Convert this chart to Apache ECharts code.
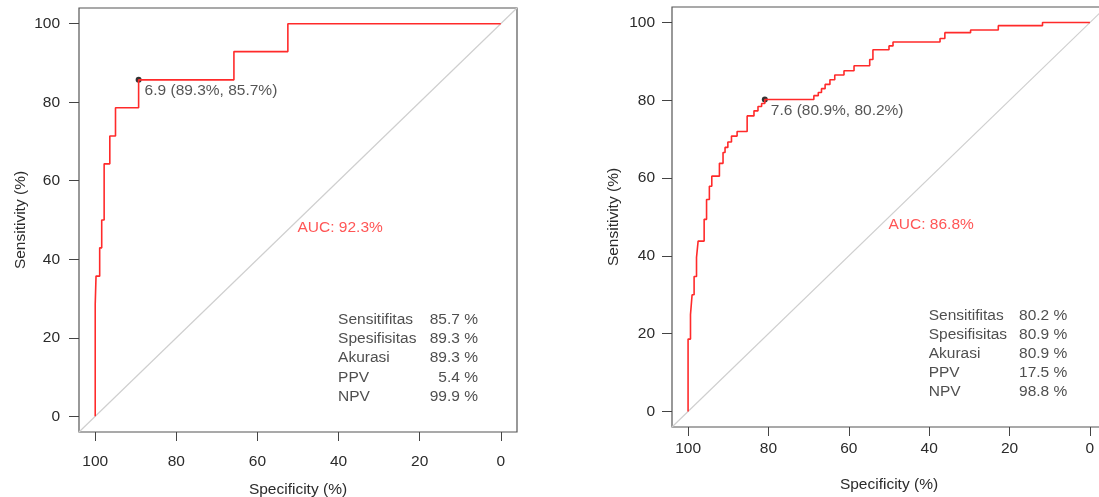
<!DOCTYPE html>
<html>
<head>
<meta charset="utf-8">
<script src="https://cdn.jsdelivr.net/npm/echarts@6/dist/echarts.min.js"></script>
<style>
  html, body { margin: 0; padding: 0; background: #fff; }
  #chart { width: 1099px; height: 497px; }
</style>
</head>
<body>
<div id="chart"></div>
<script>
// ROC step points: [specificity %, sensitivity %]
const rocLeft = [
    [100, 0], [100, 28.6], [99.8, 35.7], [98.9, 42.9], [98.4, 50.0], [97.8, 64.3],
    [96.4, 71.4], [95.0, 78.6], [89.3, 85.7], [65.8, 92.9], [52.5, 100], [0, 100]
];
const rocRight = [
    [100, 0], [100, 18.6], [99.4, 24.9], [99.0, 30.0], [98.5, 34.7], [97.9, 39.6],
    [97.5, 43.8], [96.0, 49.4], [95.4, 54.5], [94.7, 57.9], [94.1, 60.5], [92.2, 63.8],
    [91.3, 66.6], [90.8, 67.9], [90.1, 69.3], [89.2, 70.8], [87.8, 72.0], [85.3, 76.0],
    [83.6, 77.3], [82.6, 78.4], [81.7, 79.2], [80.9, 80.2], [68.7, 81.2], [67.6, 82.0],
    [66.8, 83.0], [65.9, 84.1], [64.7, 85.3], [63.5, 86.5], [61.2, 87.6], [58.7, 88.9],
    [54.8, 90.5], [54.0, 93.0], [50.0, 94.0], [49.0, 95.0], [37.3, 95.9], [36.1, 97.4],
    [29.7, 98.1], [22.8, 99.2], [11.8, 100], [0, 100]
];

const thrLeft = { cut: "6.9", spec: 89.3, sens: 85.7 };
const thrRight = { cut: "7.6", spec: 80.9, sens: 80.2 };
const aucLeft = "92.3";
const aucRight = "86.8";

const metricNames = ["Sensitifitas", "Spesifisitas", "Akurasi", "PPV", "NPV"];
const valuesLeft = ["85.7 %", "89.3 %", "89.3 %", "5.4 %", "99.9 %"];
const valuesRight = ["80.2 %", "80.9 %", "80.9 %", "17.5 %", "98.8 %"];

const ticks = [0, 20, 40, 60, 80, 100];

const FONT = "'Liberation Sans', Arial, sans-serif";
const TXT = "#2b2b2b";

function xAxisFor(idx, labelMargin, nameGap) {
    return {
        type: "value", gridIndex: idx, min: -4, max: 104, inverse: true,
        axisLine: { show: false, onZero: false },
        splitLine: { show: false },
        axisTick: { show: true, length: 9, customValues: ticks, lineStyle: { color: "#444" } },
        axisLabel: { customValues: ticks, margin: labelMargin, fontSize: 15.5, color: TXT, fontFamily: FONT },
        name: "Specificity (%)", nameLocation: "middle", nameGap: nameGap,
        nameTextStyle: { fontSize: 15.5, color: TXT, fontFamily: FONT }
    };
}

function yAxisFor(idx, labelMargin) {
    return {
        type: "value", gridIndex: idx, min: -4, max: 104,
        axisLine: { show: false, onZero: false },
        splitLine: { show: false },
        axisTick: { show: true, length: 10, customValues: ticks, lineStyle: { color: "#444" } },
        axisLabel: { customValues: ticks, margin: labelMargin, fontSize: 15.5, color: TXT, fontFamily: FONT },
        name: "Sensitivity (%)", nameLocation: "middle", nameGap: 50,
        nameTextStyle: { fontSize: 15.5, color: TXT, fontFamily: FONT }
    };
}

function panelSeries(idx, roc, thr, auc, values) {
    const textLabel = (align) => ({
        show: true, position: [0, 0], align: align, verticalAlign: "middle",
        formatter: (p) => p.name, fontSize: 15.5, color: "#222", fontFamily: FONT
    });
    const rowY = (i) => 24.5 - i * 4.9;
    return [
        {
            type: "line", xAxisIndex: idx, yAxisIndex: idx,
            data: [[104, -4], [-4, 104]], showSymbol: false, silent: true,
            lineStyle: { color: "#cfcfcf", width: 1.2 }
        },
        {
            type: "line", xAxisIndex: idx, yAxisIndex: idx, step: "end",
            data: roc, showSymbol: false, silent: true,
            lineStyle: { color: "#ff2a2a", width: 1.6 }
        },
        {
            type: "scatter", xAxisIndex: idx, yAxisIndex: idx,
            data: [[thr.spec, thr.sens]], symbolSize: 6, itemStyle: { color: "#000" },
            label: {
                show: true, position: "right", distance: 3, offset: [0, 11],
                formatter: () => `${thr.cut} (${thr.spec}%, ${thr.sens}%)`,
                fontSize: 15.5, color: TXT, fontFamily: FONT
            }
        },
        {
            type: "scatter", xAxisIndex: idx, yAxisIndex: idx,
            data: [{ name: `AUC: ${auc}%`, value: [50, 50] }],
            symbolSize: 1, itemStyle: { color: "rgba(0,0,0,0)" },
            label: {
                show: true, position: [0, 0], align: "left", verticalAlign: "top",
                formatter: (p) => p.name, fontSize: 15.5, color: "#ff2a2a", fontFamily: FONT
            }
        },
        {
            type: "scatter", xAxisIndex: idx, yAxisIndex: idx,
            data: metricNames.map((n, i) => ({ name: n, value: [40, rowY(i)] })),
            symbolSize: 1, itemStyle: { color: "rgba(0,0,0,0)" }, label: textLabel("left")
        },
        {
            type: "scatter", xAxisIndex: idx, yAxisIndex: idx,
            data: values.map((v, i) => ({ name: v, value: [5.5, rowY(i)] })),
            symbolSize: 1, itemStyle: { color: "rgba(0,0,0,0)" }, label: textLabel("right")
        }
    ];
}

const chart = echarts.init(document.getElementById("chart"));
chart.setOption({
    animation: false,
    grid: [
        { left: 79, top: 8, width: 438, height: 424, outerBoundsMode: "none", containLabel: false,
          show: true, borderColor: "#555", borderWidth: 1.2 },
        { left: 672, top: 7, width: 434, height: 420, outerBoundsMode: "none", containLabel: false,
          show: true, borderColor: "#555", borderWidth: 1.2 }
    ],
    xAxis: [xAxisFor(0, 22, 50), xAxisFor(1, 14, 50)],
    yAxis: [yAxisFor(0, 19), yAxisFor(1, 17)],
    series: [].concat(
        panelSeries(0, rocLeft, thrLeft, aucLeft, valuesLeft),
        panelSeries(1, rocRight, thrRight, aucRight, valuesRight)
    )
});
</script>
</body>
</html>
